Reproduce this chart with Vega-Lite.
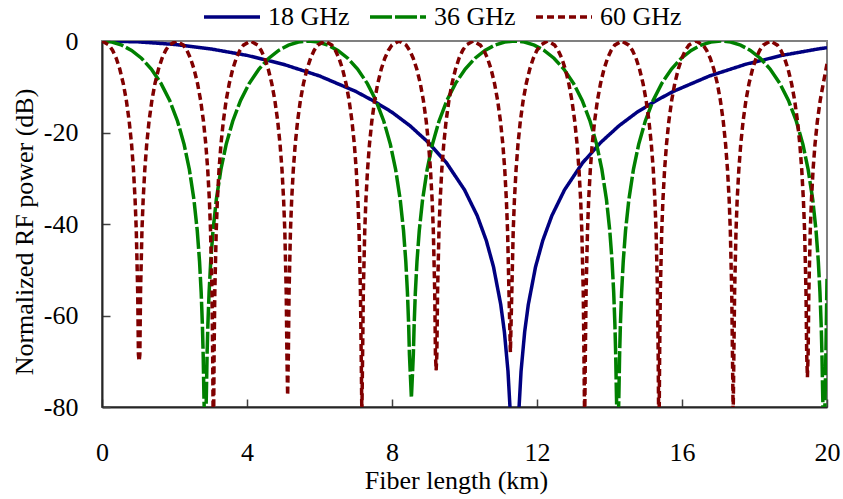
{
  "$schema": "https://vega.github.io/schema/vega-lite/v6.json",
  "width": 725,
  "height": 366,
  "autosize": {"type": "none"},
  "padding": {"left": 102, "top": 41, "right": 16, "bottom": 92},
  "background": "white",
  "config": {
    "view": {"stroke": "#808080", "strokeWidth": 2},
    "axis": {
      "labelFont": "Liberation Serif", "labelFontSize": 26, "labelColor": "#000",
      "titleFont": "Liberation Serif", "titleFontSize": 26, "titleFontWeight": "normal", "titleColor": "#000",
      "grid": false, "domainColor": "#262626", "domainWidth": 2,
      "tickColor": "#404040", "tickWidth": 1.5, "tickSize": -8
    },
    "legend": {
      "symbolType": "stroke", "symbolSize": 3136, "symbolStrokeWidth": 3.5,
      "labelFont": "Liberation Serif", "labelFontSize": 26, "labelColor": "#000",
      "labelOffset": 6, "columnPadding": 13, "padding": 0, "labelLimit": 0
    }
  },
  "datasets": {
    "f18": [
      {"L":0,"P":0},{"L":1,"P":-0.19},{"L":2,"P":-0.75},{"L":3,"P":-1.73},{"L":4,"P":-3.14},{"L":5,"P":-5.08},{"L":6,"P":-7.64},{"L":7,"P":-11.02},{"L":7.5,"P":-13.15},{"L":8,"P":-15.57},{"L":8.5,"P":-18.55},{"L":9,"P":-22.16},{"L":9.5,"P":-26.6},{"L":10,"P":-32.53},{"L":10.35,"P":-38.18},{"L":10.6,"P":-43.59},{"L":10.8,"P":-49.36},{"L":11,"P":-57.61},{"L":11.1,"P":-63.57},{"L":11.2,"P":-72.19},{"L":11.28,"P":-83.66},
      {"L":11.48,"P":-83.66},{"L":11.56,"P":-72.19},{"L":11.66,"P":-63.57},{"L":11.76,"P":-57.61},{"L":11.96,"P":-49.36},{"L":12.16,"P":-43.59},{"L":12.41,"P":-38.18},{"L":12.76,"P":-32.53},{"L":13.26,"P":-26.6},{"L":13.76,"P":-22.16},{"L":14.26,"P":-18.55},{"L":14.76,"P":-15.57},{"L":15.26,"P":-13.15},{"L":15.76,"P":-11.02},{"L":16.76,"P":-7.64},{"L":17.76,"P":-5.08},{"L":18.76,"P":-3.14},{"L":19.76,"P":-1.73},{"L":20,"P":-1.46}
    ],
    "f36": [
      {"L":0,"P":0},{"L":0.273,"P":-0.22},{"L":0.545,"P":-0.9},{"L":0.816,"P":-2.06},{"L":1.088,"P":-3.76},{"L":1.36,"P":-6.12},{"L":1.631,"P":-9.31},{"L":1.867,"P":-13},{"L":2.084,"P":-17.53},{"L":2.265,"P":-22.6},{"L":2.41,"P":-28.08},{"L":2.537,"P":-34.72},{"L":2.628,"P":-41.48},{"L":2.691,"P":-48.2},{"L":2.736,"P":-54.99},{"L":2.769,"P":-61.96},{"L":2.791,"P":-68.53},{"L":2.809,"P":-76.45},{"L":2.845,"P":-90},
      {"L":2.881,"P":-76.45},{"L":2.899,"P":-68.53},{"L":2.921,"P":-61.96},{"L":2.954,"P":-54.99},{"L":2.999,"P":-48.2},{"L":3.062,"P":-41.48},{"L":3.153,"P":-34.72},{"L":3.28,"P":-28.08},{"L":3.425,"P":-22.6},{"L":3.606,"P":-17.53},{"L":3.823,"P":-13},{"L":4.059,"P":-9.31},{"L":4.33,"P":-6.12},{"L":4.602,"P":-3.76},{"L":4.874,"P":-2.06},{"L":5.145,"P":-0.9},{"L":5.417,"P":-0.22},{"L":5.69,"P":0},
      {"L":5.963,"P":-0.22},{"L":6.235,"P":-0.9},{"L":6.506,"P":-2.06},{"L":6.778,"P":-3.76},{"L":7.05,"P":-6.12},{"L":7.321,"P":-9.31},{"L":7.557,"P":-13},{"L":7.774,"P":-17.53},{"L":7.955,"P":-22.6},{"L":8.1,"P":-28.08},{"L":8.227,"P":-34.72},{"L":8.318,"P":-41.48},{"L":8.381,"P":-48.2},{"L":8.426,"P":-54.99},{"L":8.459,"P":-61.96},{"L":8.481,"P":-68.53},{"L":8.535,"P":-78},
      {"L":8.589,"P":-68.53},{"L":8.611,"P":-61.96},{"L":8.644,"P":-54.99},{"L":8.689,"P":-48.2},{"L":8.752,"P":-41.48},{"L":8.843,"P":-34.72},{"L":8.97,"P":-28.08},{"L":9.115,"P":-22.6},{"L":9.296,"P":-17.53},{"L":9.513,"P":-13},{"L":9.749,"P":-9.31},{"L":10.02,"P":-6.12},{"L":10.292,"P":-3.76},{"L":10.564,"P":-2.06},{"L":10.835,"P":-0.9},{"L":11.107,"P":-0.22},{"L":11.38,"P":0},
      {"L":11.653,"P":-0.22},{"L":11.925,"P":-0.9},{"L":12.196,"P":-2.06},{"L":12.468,"P":-3.76},{"L":12.74,"P":-6.12},{"L":13.011,"P":-9.31},{"L":13.247,"P":-13},{"L":13.464,"P":-17.53},{"L":13.645,"P":-22.6},{"L":13.79,"P":-28.08},{"L":13.917,"P":-34.72},{"L":14.008,"P":-41.48},{"L":14.071,"P":-48.2},{"L":14.116,"P":-54.99},{"L":14.149,"P":-61.96},{"L":14.171,"P":-68.53},{"L":14.189,"P":-76.45},{"L":14.225,"P":-90},
      {"L":14.261,"P":-76.45},{"L":14.279,"P":-68.53},{"L":14.301,"P":-61.96},{"L":14.334,"P":-54.99},{"L":14.379,"P":-48.2},{"L":14.442,"P":-41.48},{"L":14.533,"P":-34.72},{"L":14.66,"P":-28.08},{"L":14.805,"P":-22.6},{"L":14.986,"P":-17.53},{"L":15.203,"P":-13},{"L":15.439,"P":-9.31},{"L":15.71,"P":-6.12},{"L":15.982,"P":-3.76},{"L":16.254,"P":-2.06},{"L":16.525,"P":-0.9},{"L":16.797,"P":-0.22},{"L":17.07,"P":0},
      {"L":17.343,"P":-0.22},{"L":17.615,"P":-0.9},{"L":17.886,"P":-2.06},{"L":18.158,"P":-3.76},{"L":18.43,"P":-6.12},{"L":18.701,"P":-9.31},{"L":18.937,"P":-13},{"L":19.154,"P":-17.53},{"L":19.335,"P":-22.6},{"L":19.48,"P":-28.08},{"L":19.607,"P":-34.72},{"L":19.698,"P":-41.48},{"L":19.761,"P":-48.2},{"L":19.806,"P":-54.99},{"L":19.839,"P":-61.96},{"L":19.861,"P":-68.53},{"L":19.879,"P":-76.45},{"L":19.915,"P":-90},
      {"L":19.951,"P":-76.45},{"L":19.969,"P":-68.53},{"L":20,"P":-52}
    ],
    "f60": [
      {"L":0,"P":0},
      {"L":0.196,"P":-0.9},{"L":0.294,"P":-2.06},{"L":0.392,"P":-3.76},{"L":0.49,"P":-6.12},{"L":0.587,"P":-9.31},{"L":0.672,"P":-13},{"L":0.75,"P":-17.53},{"L":0.816,"P":-22.6},{"L":0.868,"P":-28.08},{"L":0.913,"P":-34.72},{"L":0.946,"P":-41.48},{"L":0.985,"P":-54.99},{"L":1.005,"P":-68.53},{"L":1.024,"P":-70},
      {"L":1.044,"P":-68.53},{"L":1.063,"P":-54.99},{"L":1.102,"P":-41.48},{"L":1.135,"P":-34.72},{"L":1.181,"P":-28.08},{"L":1.233,"P":-22.6},{"L":1.298,"P":-17.53},{"L":1.376,"P":-13},{"L":1.461,"P":-9.31},{"L":1.559,"P":-6.12},{"L":1.657,"P":-3.76},{"L":1.755,"P":-2.06},{"L":1.852,"P":-0.9},{"L":2.048,"P":0},
      {"L":2.245,"P":-0.9},{"L":2.342,"P":-2.06},{"L":2.44,"P":-3.76},{"L":2.538,"P":-6.12},{"L":2.636,"P":-9.31},{"L":2.721,"P":-13},{"L":2.799,"P":-17.53},{"L":2.864,"P":-22.6},{"L":2.916,"P":-28.08},{"L":2.962,"P":-34.72},{"L":2.994,"P":-41.48},{"L":3.034,"P":-54.99},{"L":3.053,"P":-68.53},{"L":3.073,"P":-90},
      {"L":3.092,"P":-68.53},{"L":3.112,"P":-54.99},{"L":3.151,"P":-41.48},{"L":3.183,"P":-34.72},{"L":3.229,"P":-28.08},{"L":3.281,"P":-22.6},{"L":3.347,"P":-17.53},{"L":3.425,"P":-13},{"L":3.51,"P":-9.31},{"L":3.607,"P":-6.12},{"L":3.705,"P":-3.76},{"L":3.803,"P":-2.06},{"L":3.901,"P":-0.9},{"L":4.097,"P":0},
      {"L":4.293,"P":-0.9},{"L":4.391,"P":-2.06},{"L":4.489,"P":-3.76},{"L":4.586,"P":-6.12},{"L":4.684,"P":-9.31},{"L":4.769,"P":-13},{"L":4.847,"P":-17.53},{"L":4.912,"P":-22.6},{"L":4.965,"P":-28.08},{"L":5.01,"P":-34.72},{"L":5.043,"P":-41.48},{"L":5.082,"P":-54.99},{"L":5.101,"P":-68.53},{"L":5.121,"P":-77.5},
      {"L":5.141,"P":-68.53},{"L":5.16,"P":-54.99},{"L":5.199,"P":-41.48},{"L":5.232,"P":-34.72},{"L":5.278,"P":-28.08},{"L":5.33,"P":-22.6},{"L":5.395,"P":-17.53},{"L":5.473,"P":-13},{"L":5.558,"P":-9.31},{"L":5.656,"P":-6.12},{"L":5.754,"P":-3.76},{"L":5.851,"P":-2.06},{"L":5.949,"P":-0.9},{"L":6.145,"P":0},
      {"L":6.341,"P":-0.9},{"L":6.439,"P":-2.06},{"L":6.537,"P":-3.76},{"L":6.635,"P":-6.12},{"L":6.733,"P":-9.31},{"L":6.817,"P":-13},{"L":6.896,"P":-17.53},{"L":6.961,"P":-22.6},{"L":7.013,"P":-28.08},{"L":7.059,"P":-34.72},{"L":7.091,"P":-41.48},{"L":7.13,"P":-54.99},{"L":7.15,"P":-68.53},{"L":7.169,"P":-82},
      {"L":7.189,"P":-68.53},{"L":7.209,"P":-54.99},{"L":7.248,"P":-41.48},{"L":7.28,"P":-34.72},{"L":7.326,"P":-28.08},{"L":7.378,"P":-22.6},{"L":7.443,"P":-17.53},{"L":7.522,"P":-13},{"L":7.606,"P":-9.31},{"L":7.704,"P":-6.12},{"L":7.802,"P":-3.76},{"L":7.9,"P":-2.06},{"L":7.998,"P":-0.9},{"L":8.194,"P":0},
      {"L":8.39,"P":-0.9},{"L":8.488,"P":-2.06},{"L":8.585,"P":-3.76},{"L":8.683,"P":-6.12},{"L":8.781,"P":-9.31},{"L":8.866,"P":-13},{"L":8.944,"P":-17.53},{"L":9.009,"P":-22.6},{"L":9.061,"P":-28.08},{"L":9.107,"P":-34.72},{"L":9.14,"P":-41.48},{"L":9.179,"P":-54.99},{"L":9.198,"P":-68.53},{"L":9.218,"P":-72},
      {"L":9.237,"P":-68.53},{"L":9.257,"P":-54.99},{"L":9.296,"P":-41.48},{"L":9.329,"P":-34.72},{"L":9.374,"P":-28.08},{"L":9.427,"P":-22.6},{"L":9.492,"P":-17.53},{"L":9.57,"P":-13},{"L":9.655,"P":-9.31},{"L":9.753,"P":-6.12},{"L":9.85,"P":-3.76},{"L":9.948,"P":-2.06},{"L":10.046,"P":-0.9},{"L":10.242,"P":0},
      {"L":10.438,"P":-0.9},{"L":10.536,"P":-2.06},{"L":10.634,"P":-3.76},{"L":10.732,"P":-6.12},{"L":10.829,"P":-9.31},{"L":10.914,"P":-13},{"L":10.992,"P":-17.53},{"L":11.058,"P":-22.6},{"L":11.11,"P":-28.08},{"L":11.155,"P":-34.72},{"L":11.188,"P":-41.48},{"L":11.227,"P":-54.99},{"L":11.266,"P":-68},
      {"L":11.305,"P":-54.99},{"L":11.344,"P":-41.48},{"L":11.377,"P":-34.72},{"L":11.423,"P":-28.08},{"L":11.475,"P":-22.6},{"L":11.54,"P":-17.53},{"L":11.618,"P":-13},{"L":11.703,"P":-9.31},{"L":11.801,"P":-6.12},{"L":11.899,"P":-3.76},{"L":11.997,"P":-2.06},{"L":12.094,"P":-0.9},{"L":12.29,"P":0},
      {"L":12.487,"P":-0.9},{"L":12.584,"P":-2.06},{"L":12.682,"P":-3.76},{"L":12.78,"P":-6.12},{"L":12.878,"P":-9.31},{"L":12.963,"P":-13},{"L":13.041,"P":-17.53},{"L":13.106,"P":-22.6},{"L":13.158,"P":-28.08},{"L":13.204,"P":-34.72},{"L":13.236,"P":-41.48},{"L":13.276,"P":-54.99},{"L":13.295,"P":-68.53},{"L":13.315,"P":-84},
      {"L":13.334,"P":-68.53},{"L":13.354,"P":-54.99},{"L":13.393,"P":-41.48},{"L":13.425,"P":-34.72},{"L":13.471,"P":-28.08},{"L":13.523,"P":-22.6},{"L":13.589,"P":-17.53},{"L":13.667,"P":-13},{"L":13.752,"P":-9.31},{"L":13.849,"P":-6.12},{"L":13.947,"P":-3.76},{"L":14.045,"P":-2.06},{"L":14.143,"P":-0.9},{"L":14.339,"P":0},
      {"L":14.535,"P":-0.9},{"L":14.633,"P":-2.06},{"L":14.731,"P":-3.76},{"L":14.828,"P":-6.12},{"L":14.926,"P":-9.31},{"L":15.011,"P":-13},{"L":15.089,"P":-17.53},{"L":15.154,"P":-22.6},{"L":15.207,"P":-28.08},{"L":15.252,"P":-34.72},{"L":15.285,"P":-41.48},{"L":15.324,"P":-54.99},{"L":15.343,"P":-68.53},{"L":15.363,"P":-90},
      {"L":15.383,"P":-68.53},{"L":15.402,"P":-54.99},{"L":15.441,"P":-41.48},{"L":15.474,"P":-34.72},{"L":15.52,"P":-28.08},{"L":15.572,"P":-22.6},{"L":15.637,"P":-17.53},{"L":15.715,"P":-13},{"L":15.8,"P":-9.31},{"L":15.898,"P":-6.12},{"L":15.996,"P":-3.76},{"L":16.093,"P":-2.06},{"L":16.191,"P":-0.9},{"L":16.387,"P":0},
      {"L":16.583,"P":-0.9},{"L":16.681,"P":-2.06},{"L":16.779,"P":-3.76},{"L":16.877,"P":-6.12},{"L":16.975,"P":-9.31},{"L":17.059,"P":-13},{"L":17.138,"P":-17.53},{"L":17.203,"P":-22.6},{"L":17.255,"P":-28.08},{"L":17.301,"P":-34.72},{"L":17.333,"P":-41.48},{"L":17.372,"P":-54.99},{"L":17.392,"P":-68.53},{"L":17.411,"P":-82},
      {"L":17.431,"P":-68.53},{"L":17.451,"P":-54.99},{"L":17.49,"P":-41.48},{"L":17.522,"P":-34.72},{"L":17.568,"P":-28.08},{"L":17.62,"P":-22.6},{"L":17.685,"P":-17.53},{"L":17.764,"P":-13},{"L":17.848,"P":-9.31},{"L":17.946,"P":-6.12},{"L":18.044,"P":-3.76},{"L":18.142,"P":-2.06},{"L":18.24,"P":-0.9},{"L":18.436,"P":0},
      {"L":18.632,"P":-0.9},{"L":18.73,"P":-2.06},{"L":18.827,"P":-3.76},{"L":18.925,"P":-6.12},{"L":19.023,"P":-9.31},{"L":19.108,"P":-13},{"L":19.186,"P":-17.53},{"L":19.251,"P":-22.6},{"L":19.303,"P":-28.08},{"L":19.349,"P":-34.72},{"L":19.382,"P":-41.48},{"L":19.421,"P":-54.99},{"L":19.44,"P":-68.53},{"L":19.46,"P":-73.5},
      {"L":19.479,"P":-68.53},{"L":19.499,"P":-54.99},{"L":19.538,"P":-41.48},{"L":19.571,"P":-34.72},{"L":19.616,"P":-28.08},{"L":19.669,"P":-22.6},{"L":19.734,"P":-17.53},{"L":19.812,"P":-13},{"L":19.897,"P":-9.31},{"L":20,"P":-5}
    ]
  },
  "encoding": {
    "x": {
      "field": "L", "type": "quantitative",
      "scale": {"domain": [0, 20], "nice": false, "zero": false},
      "axis": {
        "values": [0, 4, 8, 12, 16, 20], "title": "Fiber length (km)",
        "labelFlush": false, "labelPadding": 40,
        "titleX": 354, "titleY": 81, "titleBaseline": "alphabetic"
      }
    },
    "y": {
      "field": "P", "type": "quantitative",
      "scale": {"domain": [-80, 0], "nice": false, "zero": false},
      "axis": {
        "values": [-80, -60, -40, -20, 0], "title": "Normalized RF power (dB)",
        "labelExpr": "'' + datum.value", "labelPadding": 32,
        "titleX": -70, "titleY": 190.5, "titleBaseline": "alphabetic", "titleAngle": -90
      }
    }
  },
  "layer": [
    {
      "data": {"name": "f18"},
      "mark": {"type": "line", "clip": true, "strokeWidth": 3.5, "strokeCap": "butt"},
      "encoding": {
        "color": {
          "datum": "18 GHz",
          "scale": {"domain": ["18 GHz", "36 GHz", "60 GHz"], "range": ["#000080", "#008000", "#800000"]},
          "legend": {"title": null, "orient": "none", "legendX": 100, "legendY": -54, "direction": "horizontal"}
        },
        "strokeDash": {
          "datum": "18 GHz",
          "scale": {"domain": ["18 GHz", "36 GHz", "60 GHz"], "range": [[1, 0], [22, 3], [7, 4]]},
          "legend": {"title": null, "orient": "none", "legendX": 100, "legendY": -54, "direction": "horizontal"}
        }
      }
    },
    {
      "data": {"name": "f36"},
      "mark": {"type": "line", "clip": true, "strokeWidth": 3.5, "strokeCap": "butt"},
      "encoding": {
        "color": {"datum": "36 GHz"},
        "strokeDash": {"datum": "36 GHz"}
      }
    },
    {
      "data": {"name": "f60"},
      "mark": {"type": "line", "clip": true, "strokeWidth": 3.5, "strokeCap": "butt"},
      "encoding": {
        "color": {"datum": "60 GHz"},
        "strokeDash": {"datum": "60 GHz"}
      }
    }
  ]
}
